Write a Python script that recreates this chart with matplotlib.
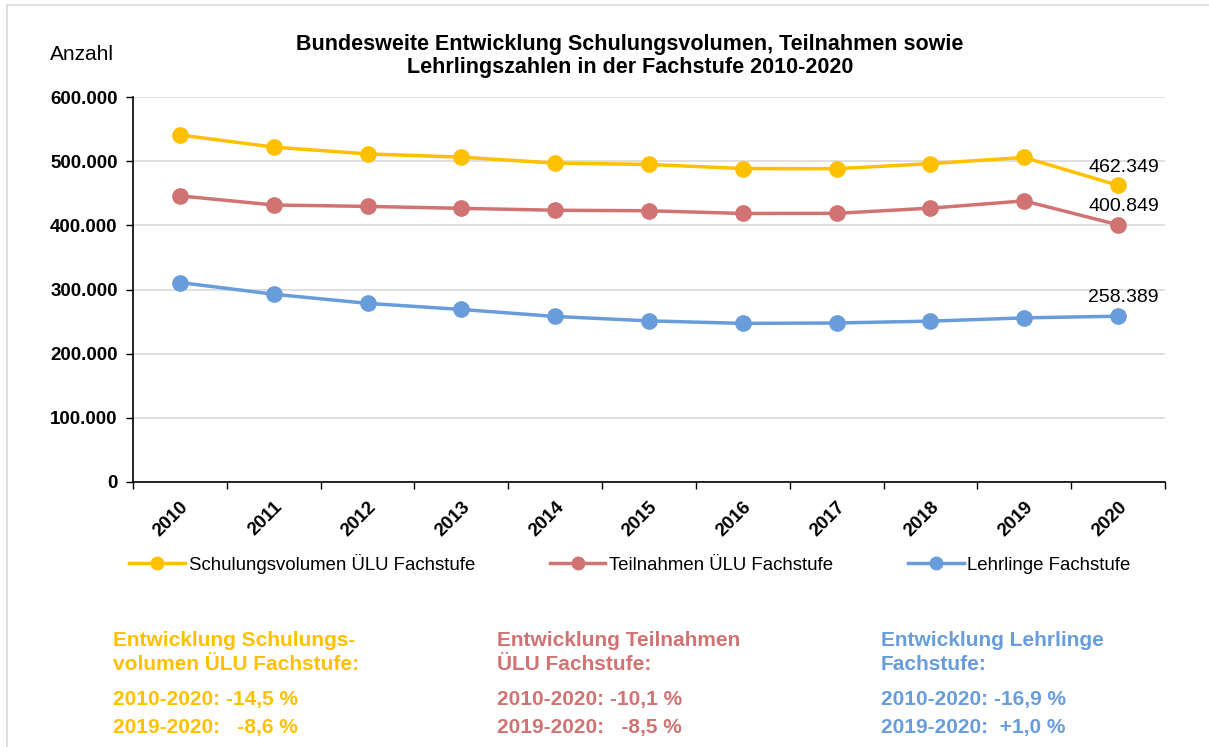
import matplotlib.pyplot as plt
from matplotlib.lines import Line2D
from matplotlib.ticker import FuncFormatter

plt.rcParams['font.family'] = ['Liberation Sans', 'DejaVu Sans']

# Daten
jahre = ['2010', '2011', '2012', '2013', '2014', '2015', '2016', '2017', '2018', '2019', '2020']
schulungsvolumen = [540800, 521900, 511300, 506300, 497000, 494900, 488500, 488200, 496200, 505800, 462349]
teilnahmen = [445900, 431700, 429500, 426500, 423500, 422700, 418500, 418700, 426800, 438100, 400849]
lehrlinge = [310900, 292600, 278400, 268900, 258000, 251100, 247200, 247800, 250700, 255800, 258389]

serien_namen = ['Schulungsvolumen ÜLU Fachstufe', 'Teilnahmen ÜLU Fachstufe', 'Lehrlinge Fachstufe']
farben = ['#FFC000', '#D07372', '#689CDB']

block_titel1 = ['Entwicklung Schulungs-', 'Entwicklung Teilnahmen', 'Entwicklung Lehrlinge']
block_titel2 = ['volumen ÜLU Fachstufe:', 'ÜLU Fachstufe:', 'Fachstufe:']
block_zeile1 = ['2010-2020: -14,5 %', '2010-2020: -10,1 %', '2010-2020: -16,9 %']
block_zeile2 = ['2019-2020:   -8,6 %', '2019-2020:   -8,5 %', '2019-2020:  +1,0 %']

fig = plt.figure(figsize=(12.09, 7.47), dpi=100)
ax = fig.add_axes([133 / 1209, 1 - 482 / 747, (1165 - 133) / 1209, (482 - 97) / 747])

x = list(range(len(jahre)))
for werte, farbe, name in zip([schulungsvolumen, teilnahmen, lehrlinge], farben, serien_namen):
    ax.plot(x, werte, color=farbe, linewidth=2.5, marker='o', markersize=11, label=name, zorder=3)
    ax.annotate(f'{werte[-1]:,}'.replace(',', '.'), (x[-1], werte[-1]), xytext=(4, 7),
                textcoords='offset points', ha='center', va='bottom', fontsize=14)

# Achsen
ax.set_xlim(-0.5, len(jahre) - 0.5)
ax.set_ylim(0, 600000)
ax.set_yticks(range(0, 600001, 100000))
ax.yaxis.set_major_formatter(FuncFormatter(lambda v, p: f'{int(v):,}'.replace(',', '.')))
ax.grid(axis='y', color='#D9D9D9', linewidth=1.2, zorder=0)
ax.set_axisbelow(True)

ax.set_xticks([i - 0.5 for i in range(len(jahre) + 1)])
ax.set_xticklabels([])
ax.set_xticks(x, minor=True)
ax.set_xticklabels(jahre, minor=True, rotation=45, ha='right', rotation_mode='anchor',
                   fontsize=13.5, fontweight='bold')
ax.tick_params(axis='x', which='minor', length=0, pad=12)
ax.tick_params(axis='x', which='major', length=5, width=1, direction='out')
ax.tick_params(axis='y', length=5, width=1, labelsize=13.5, pad=6)
for lbl in ax.get_yticklabels():
    lbl.set_fontweight('bold')

for s in ['top', 'right']:
    ax.spines[s].set_visible(False)
ax.spines['left'].set_linewidth(1.2)
ax.spines['bottom'].set_linewidth(1.2)

# Titel und Beschriftungen
fig.text(630 / 1209, 1 - 56 / 747, 'Bundesweite Entwicklung Schulungsvolumen, Teilnahmen sowie\n'
         'Lehrlingszahlen in der Fachstufe 2010-2020', ha='center', va='center',
         fontsize=15.5, fontweight='bold', linespacing=1.15)
fig.text(50 / 1209, 1 - 55 / 747, 'Anzahl', ha='left', va='center', fontsize=15)

# Legende
handles = [Line2D([0], [0], color=f, linewidth=2.5, marker='o', markersize=9) for f in farben]
fig.legend(handles, serien_namen, loc='center', bbox_to_anchor=(630 / 1209, 1 - 564 / 747),
           ncol=3, frameon=False, fontsize=13.4, columnspacing=4.0, handlelength=3.0,
           handletextpad=0.2)

# Textblöcke unten
for i, xpos in enumerate([113, 497, 881]):
    for text, ypos in zip([block_titel1[i], block_titel2[i], block_zeile1[i], block_zeile2[i]],
                          [641, 665, 699, 727]):
        fig.text(xpos / 1209, 1 - ypos / 747, text, ha='left', va='center', fontsize=15,
                 fontweight='bold', color=farben[i])

# Rahmen
fig.add_artist(Line2D([7 / 1209, 7 / 1209], [0, 1 - 5 / 747], color='#D9D9D9', linewidth=1.2))
fig.add_artist(Line2D([7 / 1209, 1], [1 - 5 / 747, 1 - 5 / 747], color='#D9D9D9', linewidth=1.2))

fig.savefig('out.png', dpi=100)
